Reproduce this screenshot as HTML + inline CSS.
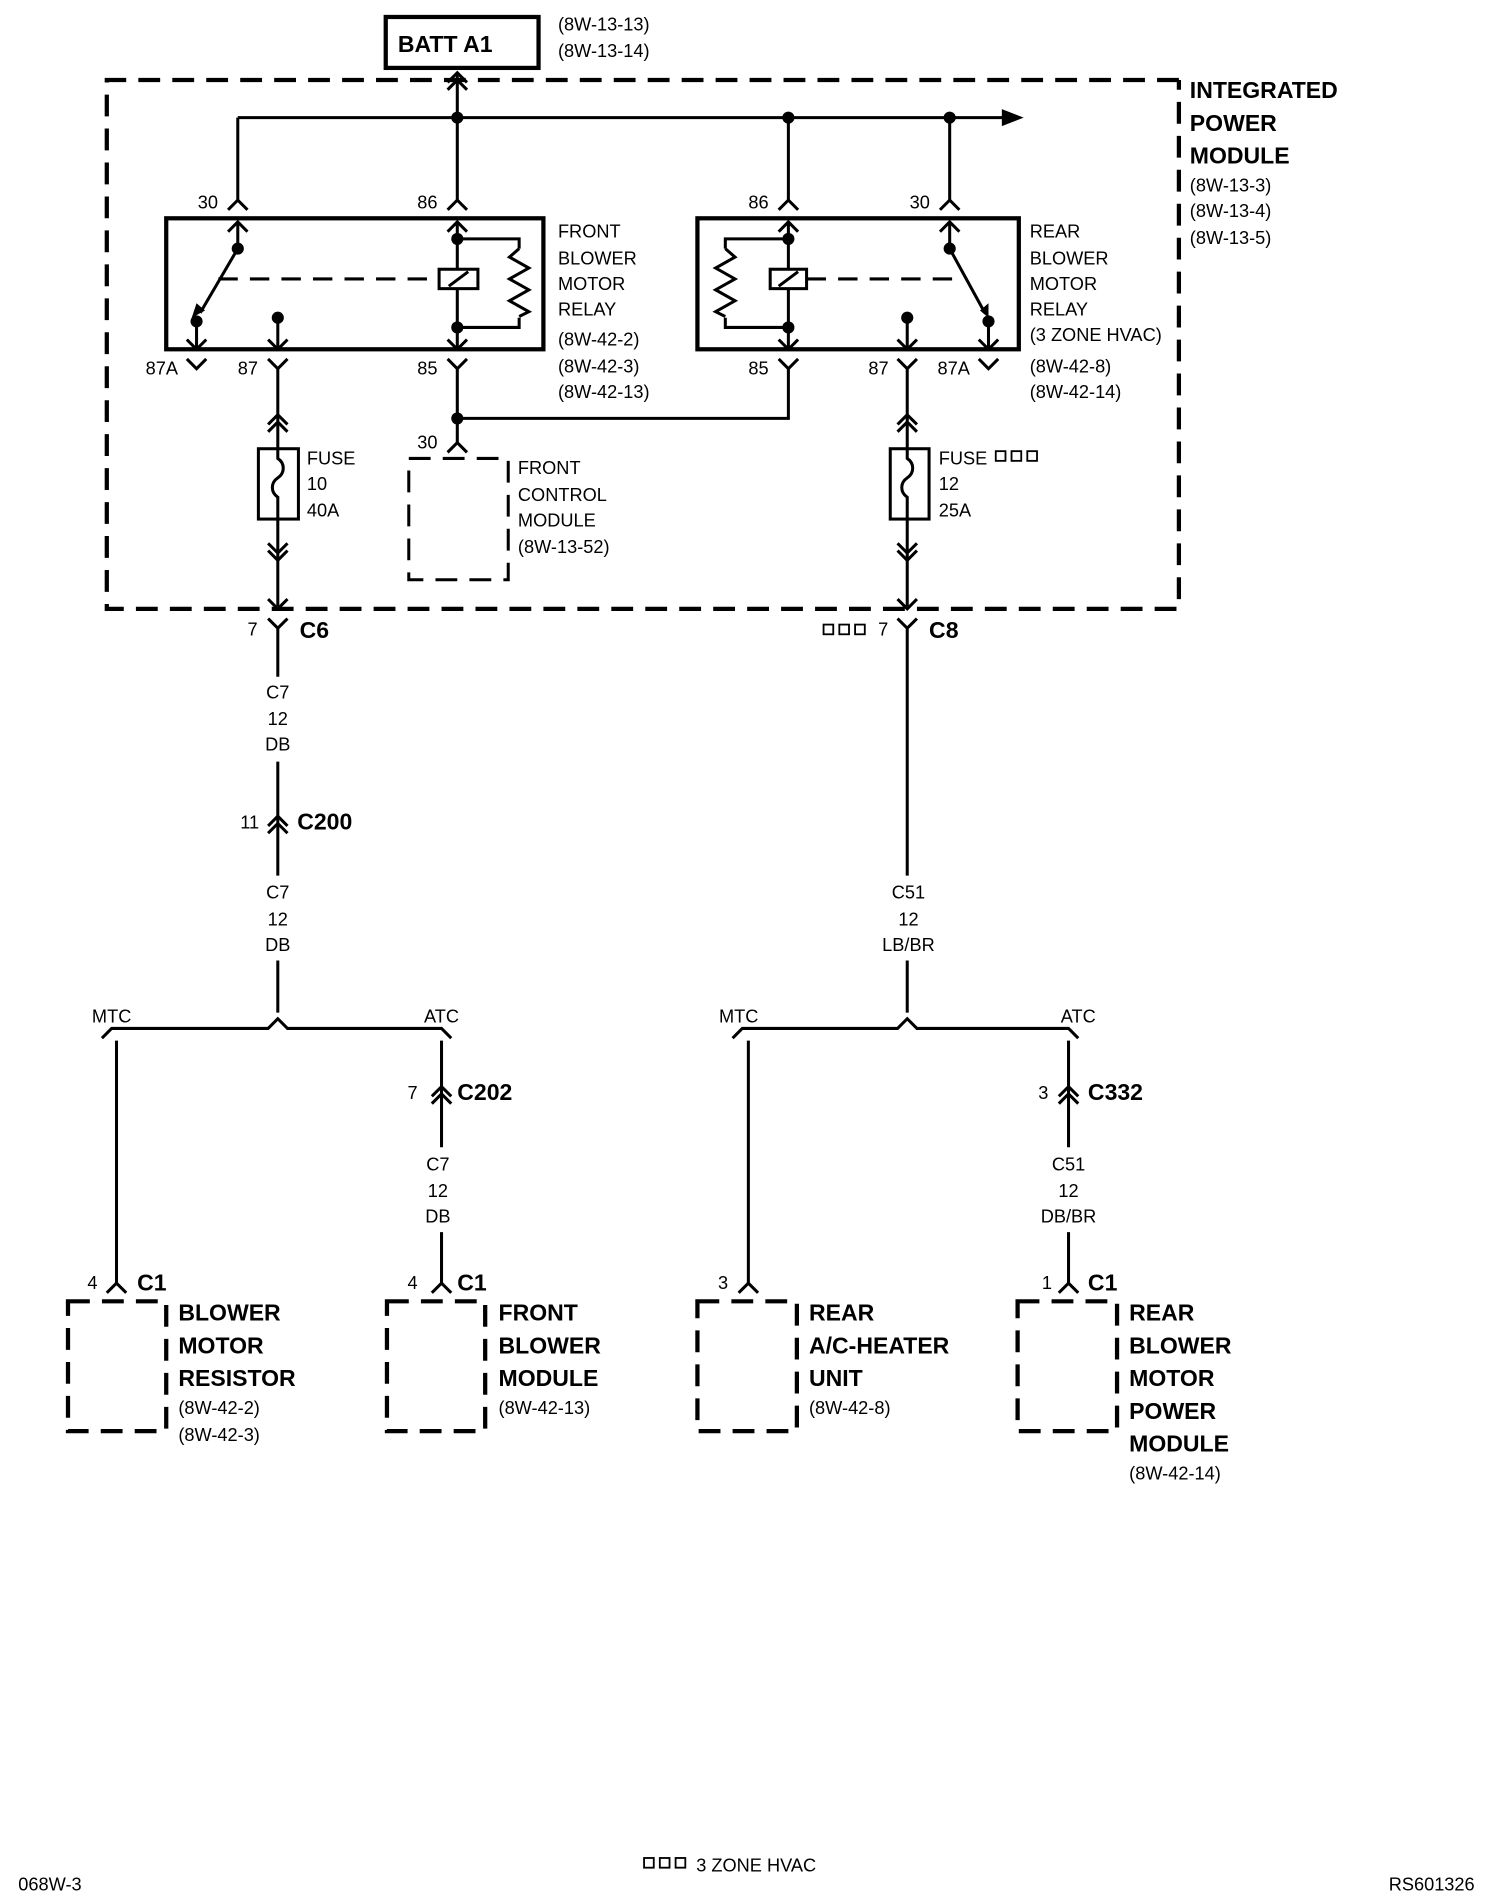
<!DOCTYPE html>
<html><head><meta charset="utf-8"><style>
html,body{margin:0;padding:0;background:#fff;}
svg{display:block;}
text{font-family:"Liberation Sans",sans-serif;fill:#000;}
.n{font-size:15px;}
.b{font-size:19px;font-weight:bold;}
</style></head><body>
<svg width="1504" height="1898" viewBox="0 0 1240 1565" xmlns="http://www.w3.org/2000/svg">
<g fill="none" stroke="#000" stroke-width="2.5">
<rect x="318" y="14" width="126" height="42" stroke-width="3.5"/>
<path d="M972 66 H88 V502 H972 V66" stroke-width="3.5" stroke-dasharray="18 10"/>
<path d="M377 60 V97 M196 97 H830 M196 97 V165 M377 97 V165 M650 97 V165 M783 97 V165"/>
<path d="M369 74 L377 66 L385 74 M369 68 L377 60 L385 68"/>
<rect x="137" y="180" width="311" height="108" stroke-width="3.5"/>
<path d="M188 173 L196 165 L204 173 M369 173 L377 165 L385 173"/>
<path d="M196 183 V205 M188 191 L196 183 L204 191 M369 191 L377 183 L385 191 M377 183 V270 M377 197 H428 V205 M428 262 V270 H377"/>
<path d="M428 205 l-8 7 l16 9 l-16 9 l16 9 l-16 9 l16 9 l-8 4"/>
<rect x="362" y="222" width="32" height="16" fill="#fff"/>
<path d="M370 236 L386 224"/>
<path d="M180 230 H362" stroke-dasharray="16 10"/>
<path d="M196 205 L165 258"/>
<path d="M162 265 V288 M229 262 V288 M377 270 V288 M154 280 L162 288 L170 280 M221 280 L229 288 L237 280 M369 280 L377 288 L385 280"/>
<path d="M154 296 L162 304 L170 296 M221 296 L229 304 L237 296 M229 304 V500 M369 296 L377 304 L385 296 M377 304 V365 M377 345 H650 V304"/>
<rect x="575" y="180" width="265" height="108" stroke-width="3.5"/>
<path d="M642 173 L650 165 L658 173 M775 173 L783 165 L791 173"/>
<path d="M642 191 L650 183 L658 191 M775 191 L783 183 L791 191 M650 183 V270 M783 183 V205 M650 197 H598 V205 M598 262 V270 H650"/>
<path d="M598 205 l8 7 l-16 9 l16 9 l-16 9 l16 9 l-16 9 l8 4"/>
<rect x="635" y="222" width="30" height="16" fill="#fff"/>
<path d="M642 236 L658 224"/>
<path d="M665 230 H790" stroke-dasharray="16 10"/>
<path d="M783 205 L812 258"/>
<path d="M650 270 V288 M748 262 V288 M815 265 V288 M642 280 L650 288 L658 280 M740 280 L748 288 L756 280 M807 280 L815 288 L823 280"/>
<path d="M642 296 L650 304 L658 296 M740 296 L748 304 L756 296 M807 296 L815 304 L823 296 M748 304 V500"/>
<path d="M369 373 L377 365 L385 373"/>
<rect x="337" y="378" width="82" height="100" stroke-dasharray="18 10"/>
<path d="M221 350 L229 342 L237 350 M221 356 L229 348 L237 356 M221 448 L229 456 L237 448 M221 454 L229 462 L237 454"/>
<rect x="213" y="370" width="33" height="58" fill="#fff"/>
<path d="M229 370 V378 c6 4 6 12 0 16 c-6 4 -6 12 0 16 V428"/>
<path d="M740 350 L748 342 L756 350 M740 356 L748 348 L756 356 M740 448 L748 456 L756 448 M740 454 L748 462 L756 454"/>
<rect x="734" y="370" width="32" height="58" fill="#fff"/>
<path d="M748 370 V378 c6 4 6 12 0 16 c-6 4 -6 12 0 16 V428"/>
<path d="M221 494 L229 502 L237 494 M740 494 L748 502 L756 494"/>
<path d="M221 510 L229 518 L237 510 M229 518 V558 M229 628 V722 M229 792 V835 M740 510 L748 518 L756 510 M748 518 V722 M748 792 V835"/>
<path d="M221 681 L229 673 L237 681 M221 687 L229 679 L237 687"/>
<path d="M84 856 L92 848 H221 L229 840 L237 848 H364 L372 856"/>
<path d="M604 856 L612 848 H740 L748 840 L756 848 H881 L889 856"/>
<path d="M96 858 V1058 M364 858 V946 M364 1016 V1058 M617 858 V1058 M881 858 V946 M881 1016 V1058"/>
<path d="M356 904 L364 896 L372 904 M356 910 L364 902 L372 910 M873 904 L881 896 L889 904 M873 910 L881 902 L889 910"/>
<path d="M88 1066 L96 1058 L104 1066 M356 1066 L364 1058 L372 1066 M609 1066 L617 1058 L625 1066 M873 1066 L881 1058 L889 1066"/>
<g stroke-width="3.5" stroke-dasharray="18 10">
<rect x="56" y="1073" width="81" height="107"/>
<rect x="319" y="1073" width="81" height="107"/>
<rect x="575" y="1073" width="82" height="107"/>
<rect x="839" y="1073" width="82" height="107"/>
</g>
<g stroke-width="1.5">
<rect x="821" y="372" width="8" height="8"/><rect x="834" y="372" width="8" height="8"/><rect x="847" y="372" width="8" height="8"/>
<rect x="679" y="515" width="8" height="8"/><rect x="692" y="515" width="8" height="8"/><rect x="705" y="515" width="8" height="8"/>
<rect x="531" y="1532" width="8" height="8"/><rect x="544" y="1532" width="8" height="8"/><rect x="557" y="1532" width="8" height="8"/>
</g>
</g>
<g fill="#000">
<circle cx="377" cy="97" r="5"/><circle cx="650" cy="97" r="5"/><circle cx="783" cy="97" r="5"/>
<path d="M826 90 L844 97 L826 104 Z"/>
<circle cx="196" cy="205" r="5"/><circle cx="162" cy="265" r="5"/><circle cx="229" cy="262" r="5"/><circle cx="377" cy="197" r="5"/><circle cx="377" cy="270" r="5"/>
<path d="M158 262 L162 250 L169 256 Z"/>
<circle cx="783" cy="205" r="5"/><circle cx="815" cy="265" r="5"/><circle cx="748" cy="262" r="5"/><circle cx="650" cy="197" r="5"/><circle cx="650" cy="270" r="5"/>
<path d="M815 262 L808 256 L815 250 Z"/>
<circle cx="377" cy="345" r="5"/>
</g>
<text class="b" x="328" y="43">BATT A1</text>
<text class="n" x="460" y="25">(8W-13-13)</text>
<text class="n" x="460" y="47">(8W-13-14)</text>
<text class="b" x="981" y="81">INTEGRATED</text>
<text class="b" x="981" y="108">POWER</text>
<text class="b" x="981" y="135">MODULE</text>
<text class="n" x="981" y="158">(8W-13-3)</text>
<text class="n" x="981" y="179">(8W-13-4)</text>
<text class="n" x="981" y="201">(8W-13-5)</text>
<text class="n" x="163" y="172">30</text><text class="n" x="344" y="172">86</text>
<text class="n" x="617" y="172">86</text><text class="n" x="750" y="172">30</text>
<text class="n" x="120" y="309">87A</text><text class="n" x="196" y="309">87</text><text class="n" x="344" y="309">85</text>
<text class="n" x="617" y="309">85</text><text class="n" x="716" y="309">87</text><text class="n" x="773" y="309">87A</text>
<text class="n" x="460" y="196">FRONT</text><text class="n" x="460" y="218">BLOWER</text><text class="n" x="460" y="239">MOTOR</text><text class="n" x="460" y="260">RELAY</text>
<text class="n" x="460" y="285">(8W-42-2)</text><text class="n" x="460" y="307">(8W-42-3)</text><text class="n" x="460" y="328">(8W-42-13)</text>
<text class="n" x="849" y="196">REAR</text><text class="n" x="849" y="218">BLOWER</text><text class="n" x="849" y="239">MOTOR</text><text class="n" x="849" y="260">RELAY</text>
<text class="n" x="849" y="281">(3 ZONE HVAC)</text><text class="n" x="849" y="307">(8W-42-8)</text><text class="n" x="849" y="328">(8W-42-14)</text>
<text class="n" x="344" y="370">30</text>
<text class="n" x="427" y="391">FRONT</text><text class="n" x="427" y="413">CONTROL</text><text class="n" x="427" y="434">MODULE</text><text class="n" x="427" y="456">(8W-13-52)</text>
<text class="n" x="253" y="383">FUSE</text><text class="n" x="253" y="404">10</text><text class="n" x="253" y="426">40A</text>
<text class="n" x="774" y="383">FUSE</text><text class="n" x="774" y="404">12</text><text class="n" x="774" y="426">25A</text>
<text class="n" x="204" y="524">7</text><text class="b" x="247" y="526">C6</text>
<text class="n" x="724" y="524">7</text><text class="b" x="766" y="526">C8</text>
<g class="n" text-anchor="middle">
<text x="229" y="576">C7</text><text x="229" y="598">12</text><text x="229" y="619">DB</text>
<text x="229" y="741">C7</text><text x="229" y="763">12</text><text x="229" y="784">DB</text>
<text x="749" y="741">C51</text><text x="749" y="763">12</text><text x="749" y="784">LB/BR</text>
<text x="361" y="965">C7</text><text x="361" y="987">12</text><text x="361" y="1008">DB</text>
<text x="881" y="965">C51</text><text x="881" y="987">12</text><text x="881" y="1008">DB/BR</text>
<text x="92" y="843">MTC</text><text x="364" y="843">ATC</text>
<text x="609" y="843">MTC</text><text x="889" y="843">ATC</text>
</g>
<text class="n" x="198" y="683">11</text><text class="b" x="245" y="684">C200</text>
<text class="n" x="336" y="906">7</text><text class="b" x="377" y="907">C202</text>
<text class="n" x="856" y="906">3</text><text class="b" x="897" y="907">C332</text>
<text class="n" x="72" y="1063">4</text><text class="b" x="113" y="1064">C1</text>
<text class="n" x="336" y="1063">4</text><text class="b" x="377" y="1064">C1</text>
<text class="n" x="592" y="1063">3</text>
<text class="n" x="859" y="1063">1</text><text class="b" x="897" y="1064">C1</text>
<text class="b" x="147" y="1089">BLOWER</text><text class="b" x="147" y="1116">MOTOR</text><text class="b" x="147" y="1143">RESISTOR</text>
<text class="n" x="147" y="1166">(8W-42-2)</text><text class="n" x="147" y="1188">(8W-42-3)</text>
<text class="b" x="411" y="1089">FRONT</text><text class="b" x="411" y="1116">BLOWER</text><text class="b" x="411" y="1143">MODULE</text>
<text class="n" x="411" y="1166">(8W-42-13)</text>
<text class="b" x="667" y="1089">REAR</text><text class="b" x="667" y="1116">A/C-HEATER</text><text class="b" x="667" y="1143">UNIT</text>
<text class="n" x="667" y="1166">(8W-42-8)</text>
<text class="b" x="931" y="1089">REAR</text><text class="b" x="931" y="1116">BLOWER</text><text class="b" x="931" y="1143">MOTOR</text>
<text class="b" x="931" y="1170">POWER</text><text class="b" x="931" y="1197">MODULE</text>
<text class="n" x="931" y="1220">(8W-42-14)</text>
<text class="n" x="574" y="1543">3 ZONE HVAC</text>
<text class="n" x="15" y="1559">068W-3</text>
<text class="n" x="1145" y="1559">RS601326</text>
</svg>
</body></html>
